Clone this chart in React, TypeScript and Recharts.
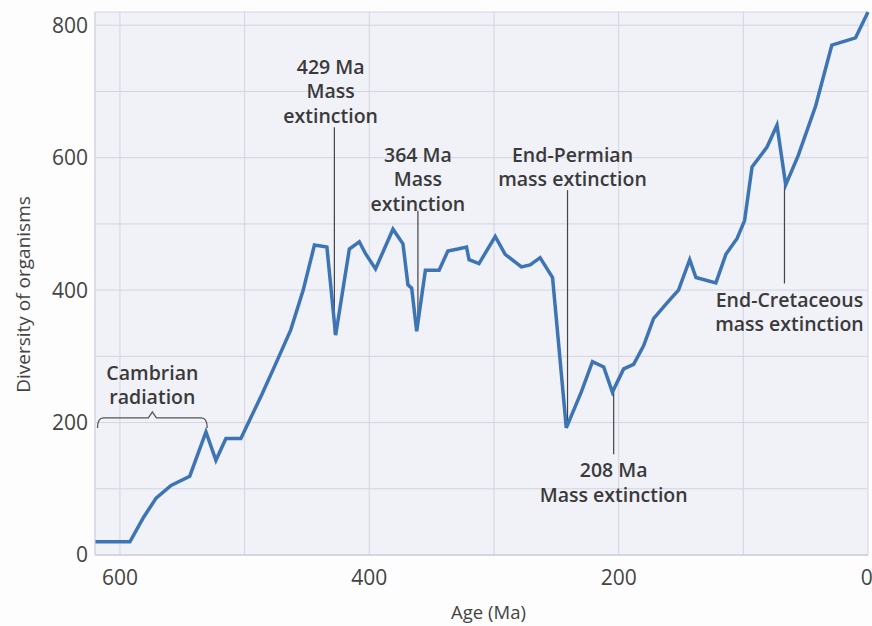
import React from "react";
import {
  CartesianGrid,
  Label,
  Line,
  LineChart,
  ReferenceDot,
  ReferenceLine,
  XAxis,
  YAxis,
} from "recharts";

// age (Ma) and diversity, oldest first
const ages = [
  620, 592, 581, 571, 559, 544, 531, 523, 515, 503, 486, 475, 463, 453, 444, 434, 427, 416, 408, 403,
  395, 381, 373, 369, 366, 362, 355, 344, 337, 329, 322, 320, 312, 299, 291, 278, 271, 263, 253, 242,
  230, 221, 212, 205, 196, 188, 180, 172, 161, 152, 143, 138, 122, 114, 105, 99, 93, 81, 73, 66,
  56, 42, 29, 10, 0,
];
const diversity = [
  20, 20, 57, 86, 105, 119, 186, 143, 176, 176, 243, 289, 340, 400, 468, 465, 332, 462, 473, 455,
  432, 492, 470, 408, 403, 338, 430, 430, 459, 462, 465, 446, 440, 481, 454, 435, 438, 449, 419, 192,
  246, 292, 284, 246, 281, 288, 316, 357, 381, 400, 446, 419, 411, 454, 478, 505, 586, 616, 649, 559,
  603, 678, 770, 781, 820,
];

const xTicks = [600, 500, 400, 300, 200, 100, 0];
const yTicks = [0, 100, 200, 300, 400, 500, 600, 700, 800];

// annotation text: [age, value, lines]
const notes: [number, number, string[]][] = [
  [431, 737, ["429 Ma", "Mass", "extinction"]],
  [361, 604, ["364 Ma", "Mass", "extinction"]],
  [237, 604, ["End-Permian", "mass extinction"]],
  [204, 128, ["208 Ma", "Mass extinction"]],
  [63, 385, ["End-Cretaceous", "mass extinction"]],
  [574, 275, ["Cambrian", "radiation"]],
];

// leader lines: [age, from, to]
const leaders: [number, number, number][] = [
  [428, 646, 334],
  [361, 520, 342],
  [241, 551, 196],
  [204, 246, 152],
  [67, 559, 410],
];

const data = ages.map((age, i) => ({ age, value: diversity[i] }));

const FONT = "'Open Sans', 'Noto Sans', sans-serif";

function Note({ cx, cy, lines }: { cx?: number; cy?: number; lines: string[] }) {
  if (cx == null || cy == null) return null;
  return (
    <text x={cx} y={cy} textAnchor="middle" fontSize={19.5} fontWeight={600} fill="#3a3a3a" fontFamily={FONT}>
      {lines.map((l, i) => (
        <tspan key={i} x={cx} dy={i === 0 ? "0.35em" : 24.5}>
          {l}
        </tspan>
      ))}
    </text>
  );
}

function Brace(props: any) {
  const { x1, y1, x2 } = props;
  const mid = (x1 + x2) / 2;
  const d = `M${x1},${y1 + 10} Q${x1},${y1} ${x1 + 6},${y1} L${mid - 4},${y1} L${mid},${y1 - 6} L${mid + 4},${y1} L${x2 - 6},${y1} Q${x2},${y1} ${x2},${y1 + 10}`;
  return <path d={d} fill="none" stroke="#555" strokeWidth={1.3} />;
}

export default function App() {
  return (
    <div style={{ position: "absolute", left: 0, top: 0, width: 872, height: 626, background: "#fdfdfd" }}>
      <LineChart width={872} height={626} data={data} margin={{ top: 12, right: 4, left: 0, bottom: 0 }}>
        <CartesianGrid stroke="#d4d4e2" fill="#f1f1f8" />
        <XAxis
          dataKey="age"
          type="number"
          domain={[0, 620]}
          reversed
          ticks={xTicks}
          tickFormatter={(v) => (v % 200 === 0 ? String(v) : "")}
          tick={{ fontSize: 21, fill: "#444", fontFamily: FONT }}
          tickLine={false}
          tickSize={0}
          tickMargin={15}
          axisLine={{ stroke: "#c4c4d6" }}
          height={71}
        >
          <Label
            content={({ viewBox }: any) => (
              <text
                x={viewBox.x + viewBox.width / 2 + 7}
                y={viewBox.y + 64}
                textAnchor="middle"
                fontSize={18.5}
                fill="#444"
                fontFamily={FONT}
              >
                Age (Ma)
              </text>
            )}
          />
        </XAxis>
        <YAxis
          type="number"
          domain={[0, 820]}
          ticks={yTicks}
          tickFormatter={(v) => (v % 200 === 0 ? String(v) : "")}
          tick={{ fontSize: 21, fill: "#444", fontFamily: FONT }}
          tickLine={false}
          tickSize={0}
          tickMargin={7}
          axisLine={{ stroke: "#d4d4e2" }}
          width={95}
        >
          <Label
            content={({ viewBox }: any) => {
              const x = 23;
              const y = viewBox.y + viewBox.height / 2 + 11;
              return (
                <text
                  x={x}
                  y={y}
                  transform={`rotate(-90, ${x}, ${y})`}
                  textAnchor="middle"
                  dominantBaseline="central"
                  fontSize={19}
                  fill="#444"
                  fontFamily={FONT}
                >
                  Diversity of organisms
                </text>
              );
            }}
          />
        </YAxis>
        {leaders.map(([age, from, to], i) => (
          <ReferenceLine
            key={`l${i}`}
            segment={[
              { x: age, y: from },
              { x: age, y: to },
            ]}
            stroke="#444"
            strokeWidth={1.2}
          />
        ))}
        <ReferenceLine
          segment={[
            { x: 618, y: 207 },
            { x: 530, y: 207 },
          ]}
          shape={Brace}
        />
        <Line
          type="linear"
          dataKey="value"
          stroke="#3d74b3"
          strokeWidth={3.5}
          dot={false}
          activeDot={false}
          isAnimationActive={false}
        />
        {notes.map(([age, value, lines], i) => (
          <ReferenceDot
            key={`n${i}`}
            x={age}
            y={value}
            r={0}
            shape={(p: any) => <Note cx={p.cx} cy={p.cy} lines={lines} />}
          />
        ))}
      </LineChart>
    </div>
  );
}
